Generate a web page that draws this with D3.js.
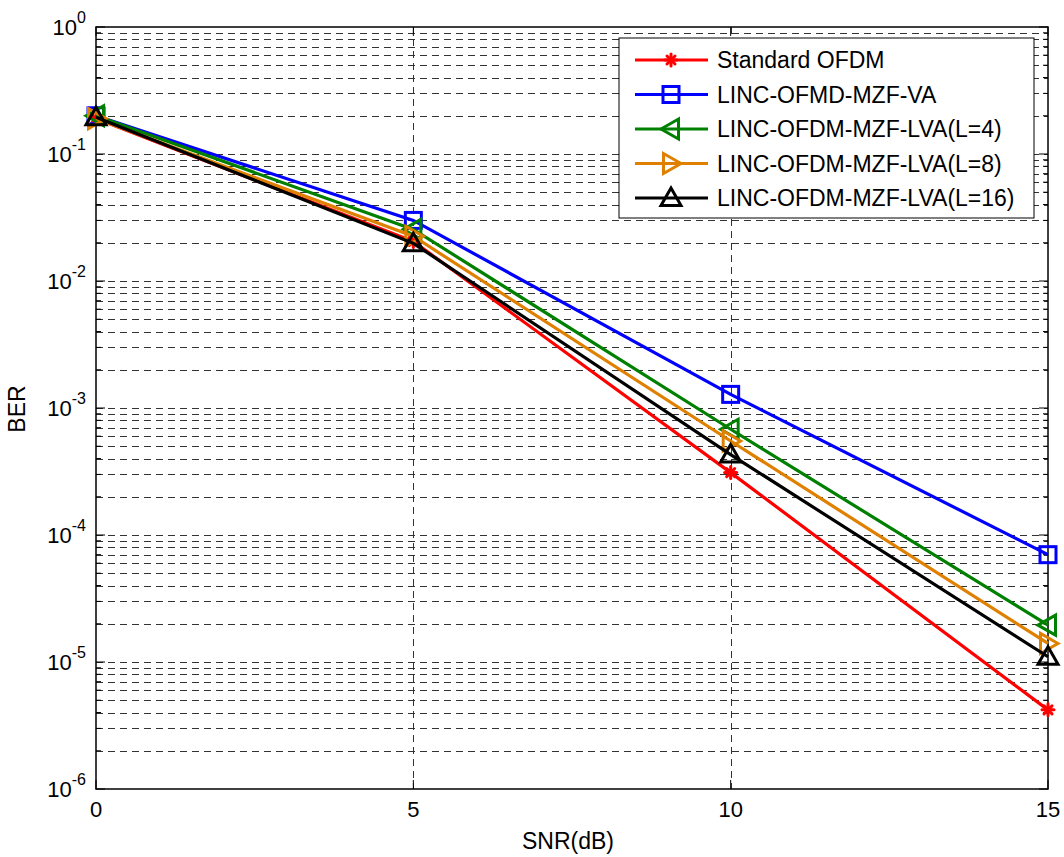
<!DOCTYPE html>
<html>
<head>
<meta charset="utf-8">
<script src="https://cdn.jsdelivr.net/npm/d3@7"></script>
<style>
  body { margin: 0; background: #fff; }
  text { font-family: "Liberation Sans", Arial, sans-serif; fill: #000; }
</style>
</head>
<body>
<script>
var svgWidth = 1064;
var svgHeight = 857;

var margin = { top: 27, right: 16, bottom: 68, left: 96 };
var width = svgWidth - margin.left - margin.right;
var height = svgHeight - margin.top - margin.bottom;

// data
var snr = [0, 5, 10, 15];
var seriesNames = [
  "Standard OFDM",
  "LINC-OFMD-MZF-VA",
  "LINC-OFDM-MZF-LVA(L=4)",
  "LINC-OFDM-MZF-LVA(L=8)",
  "LINC-OFDM-MZF-LVA(L=16)"
];
var berStandard = [0.19, 0.0205, 3.1e-4, 4.2e-6];
var berVA = [0.2, 0.030, 1.28e-3, 7.0e-5];
var berL4 = [0.2, 0.0255, 6.8e-4, 1.95e-5];
var berL8 = [0.19, 0.0225, 5.5e-4, 1.4e-5];
var berL16 = [0.195, 0.0198, 4.3e-4, 1.1e-5];
var xTicks = [0, 5, 10, 15];
var yExps = [0, -1, -2, -3, -4, -5, -6];

var colors = ["#ff0000", "#0000ff", "#008000", "#e08000", "#000000"];
var markers = ["star", "square", "triLeft", "triRight", "triUp"];
var allSeries = [berStandard, berVA, berL4, berL8, berL16];

var svg = d3.select("body").append("svg")
  .attr("width", svgWidth)
  .attr("height", svgHeight);

var chartGroup = svg.append("g")
  .attr("transform", `translate(${margin.left}, ${margin.top})`);

var x = d3.scaleLinear().domain([0, 15]).range([0, width]);
var y = d3.scaleLog().domain([1e-6, 1]).range([height, 0]);

// grid lines (dashed) at every decade and minor value
var minorVals = [];
for (var e = -6; e < 0; e++) {
  for (var m = 1; m <= 9; m++) minorVals.push(m * Math.pow(10, e));
}
minorVals.push(1);

chartGroup.append("g").selectAll("line")
  .data(minorVals.filter(v => v > 1e-6 && v < 1))
  .enter().append("line")
  .attr("x1", 0).attr("x2", width)
  .attr("y1", d => Math.round(y(d)) + 0.5).attr("y2", d => Math.round(y(d)) + 0.5)
  .attr("stroke", "#333")
  .attr("stroke-width", 1)
  .attr("stroke-dasharray", "7,5");

chartGroup.append("g").selectAll("line")
  .data([5, 10])
  .enter().append("line")
  .attr("x1", d => Math.round(x(d)) + 0.5).attr("x2", d => Math.round(x(d)) + 0.5)
  .attr("y1", 0).attr("y2", height)
  .attr("stroke", "#333")
  .attr("stroke-width", 1)
  .attr("stroke-dasharray", "7,5");

// inward ticks on left and right
var tickG = chartGroup.append("g").attr("stroke", "#000").attr("stroke-width", 1);
minorVals.forEach(function(v) {
  var isMajor = Math.abs(Math.log10(v) - Math.round(Math.log10(v))) < 1e-9;
  var len = isMajor ? 9 : 5;
  tickG.append("line").attr("x1", 0).attr("x2", len).attr("y1", y(v)).attr("y2", y(v));
  tickG.append("line").attr("x1", width).attr("x2", width - len).attr("y1", y(v)).attr("y2", y(v));
});
xTicks.forEach(function(t) {
  tickG.append("line").attr("x1", x(t)).attr("x2", x(t)).attr("y1", height).attr("y2", height - 9);
  tickG.append("line").attr("x1", x(t)).attr("x2", x(t)).attr("y1", 0).attr("y2", 9);
});

// frame
chartGroup.append("rect")
  .attr("x", 0).attr("y", 0)
  .attr("width", width).attr("height", height)
  .attr("fill", "none")
  .attr("stroke", "#000")
  .attr("stroke-width", 1.5);

// x tick labels
chartGroup.append("g").selectAll("text")
  .data(xTicks)
  .enter().append("text")
  .attr("x", d => x(d))
  .attr("y", height + 28)
  .attr("text-anchor", "middle")
  .style("font-size", "22px")
  .text(d => d);

// y tick labels 10^n
var yLab = chartGroup.append("g").selectAll("text")
  .data(yExps)
  .enter().append("text")
  .attr("x", -10)
  .attr("y", d => y(Math.pow(10, d)) + 8)
  .attr("text-anchor", "end")
  .style("font-size", "22px");
yLab.append("tspan").text("10");
yLab.append("tspan")
  .attr("dy", -12)
  .style("font-size", "16px")
  .text(d => d);

// axis labels
chartGroup.append("text")
  .attr("transform", "rotate(-90)")
  .attr("x", -(409 - margin.top))
  .attr("y", -71)
  .attr("text-anchor", "middle")
  .style("font-size", "23px")
  .text("BER");

chartGroup.append("text")
  .attr("x", 568 - margin.left)
  .attr("y", height + 60)
  .attr("text-anchor", "middle")
  .style("font-size", "23px")
  .text("SNR(dB)");

// markers
function drawMarker(g, kind, color, cx, cy) {
  if (kind === "star") {
    var s = g.append("g").attr("transform", `translate(${cx},${cy})`)
      .attr("stroke", color).attr("stroke-width", 3).attr("stroke-linecap", "round");
    [[0, -6, 0, 6], [-6, 0, 6, 0], [-4, -4, 4, 4], [-4, 4, 4, -4]].forEach(function(p) {
      s.append("line").attr("x1", p[0]).attr("y1", p[1]).attr("x2", p[2]).attr("y2", p[3]);
    });
  } else if (kind === "square") {
    g.append("rect")
      .attr("x", cx - 8).attr("y", cy - 8)
      .attr("width", 16).attr("height", 16)
      .attr("fill", "none").attr("stroke", color).attr("stroke-width", 3);
  } else {
    var r = 10;
    var pts;
    if (kind === "triUp") pts = [[0, -r], [r, r * 0.75], [-r, r * 0.75]];
    else if (kind === "triLeft") pts = [[-r, 0], [r * 0.75, -r], [r * 0.75, r]];
    else pts = [[r, 0], [-r * 0.75, -r], [-r * 0.75, r]];
    g.append("polygon")
      .attr("points", pts.map(p => (cx + p[0]) + "," + (cy + p[1])).join(" "))
      .attr("fill", "none").attr("stroke", color).attr("stroke-width", 3)
      .attr("stroke-linejoin", "miter");
  }
}

var line = d3.line()
  .x((d, i) => x(snr[i]))
  .y(d => y(d));

allSeries.forEach(function(vals, k) {
  var g = chartGroup.append("g");
  g.append("path")
    .datum(vals)
    .attr("d", line)
    .attr("fill", "none")
    .attr("stroke", colors[k])
    .attr("stroke-width", 3.2);
  vals.forEach(function(v, i) {
    drawMarker(g, markers[k], colors[k], x(snr[i]), y(v));
  });
});

// legend
var legX = 619 - margin.left, legY = 38 - margin.top;
var legend = chartGroup.append("g").attr("transform", `translate(${legX},${legY})`);
legend.append("rect")
  .attr("width", 415).attr("height", 180)
  .attr("fill", "#fff").attr("stroke", "#000").attr("stroke-width", 1);
seriesNames.forEach(function(name, k) {
  var ry = 22 + k * 34.5;
  legend.append("line")
    .attr("x1", 16).attr("x2", 89)
    .attr("y1", ry).attr("y2", ry)
    .attr("stroke", colors[k]).attr("stroke-width", 3.2);
  drawMarker(legend, markers[k], colors[k], 52, ry);
  legend.append("text")
    .attr("x", 98).attr("y", ry + 8)
    .style("font-size", "23px")
    .text(name);
});
</script>
</body>
</html>
